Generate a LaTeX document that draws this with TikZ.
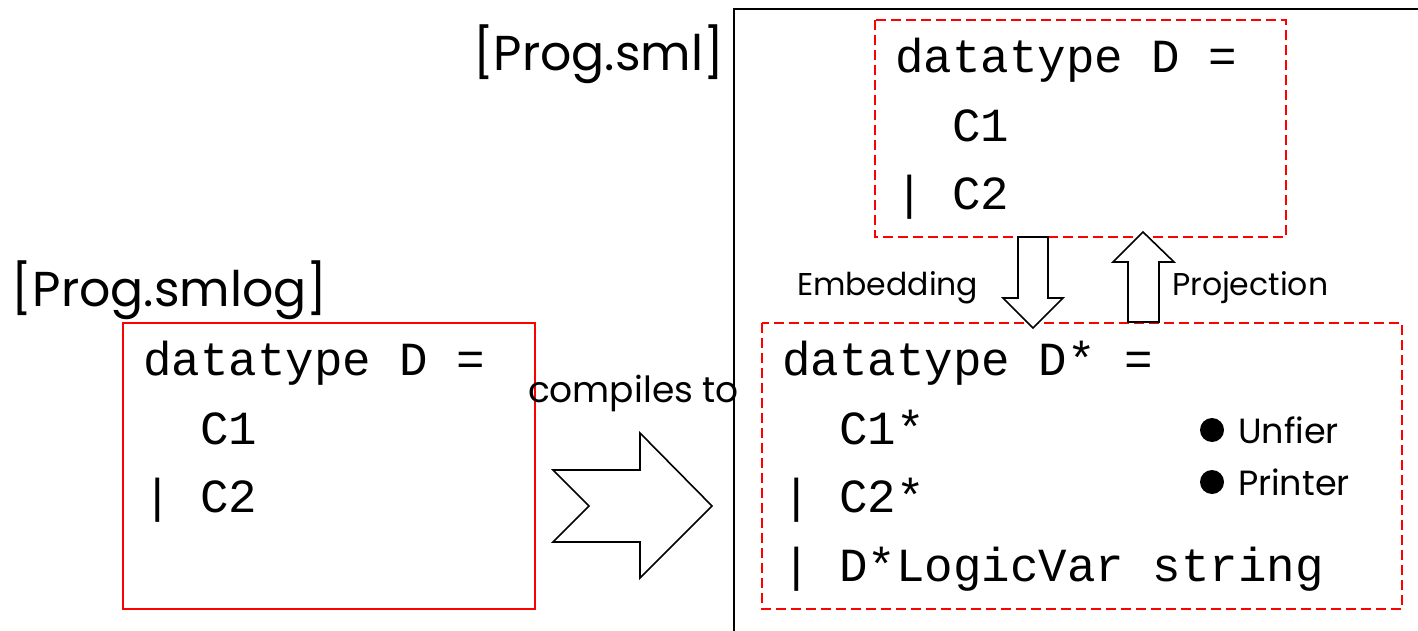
\documentclass[tikz,border=0pt]{standalone}
\usepackage{fontspec}
\setmainfont{Poppins}
\newfontfamily\codefont{Liberation Mono}
\begin{document}
\begin{tikzpicture}[x={(1pt,0)}, y={(0,-1pt)},
  every node/.style={inner sep=0pt, outer sep=0pt, anchor=base west},
  code/.style={font=\codefont\fontsize{47.5}{50}\selectfont},
  filename/.style={font=\fontsize{49}{54}\selectfont},
  label/.style={font=\fontsize{31.5}{36}\selectfont},
  item/.style={font=\fontsize{35}{40}\selectfont},
  solidbox/.style={draw=red, line width=1.6pt},
  dashbox/.style={draw=red, line width=1.6pt, dash pattern=on 10pt off 5pt},
  frame/.style={draw=black, line width=1.6pt},
  bigarrow/.style={draw=black, line width=1.6pt, line join=miter, fill=white}]
\useasboundingbox (0,0) rectangle (1418,631);

% outer frame of the generated program
\draw[frame] (734,631) -- (734,9) -- (1418,9);

% source program
\node[filename] (srcname) at (12,306) {[Prog.smlog]};
\draw[solidbox] (123,323) rectangle (535,609);
\node[code] (s1) at (143,375) {datatype D =};
\node[code] (s2) at (143,444) {\ \ C1};
\node[code] (s3) at (143,512) {| C2};

% compilation arrow
\node[font=\fontsize{36}{40}\selectfont] (comp) at (528,402) {compiles to};
\draw[bigarrow] (553,470) -- (640,470) -- (640,433) -- (712,506) -- (640,578)
  -- (640,542) -- (553,542) -- (589,506) -- cycle;

% generated program
\node[filename] (dstname) at (473,71) {[Prog.sml]};
\draw[dashbox] (875,20) rectangle (1286,237);
\node[code] (t1) at (895,73) {datatype D =};
\node[code] (t2) at (895,142) {\ \ C1};
\node[code] (t3) at (895,210) {| C2};

\draw[dashbox] (762,323) rectangle (1402,609);
\node[code] (b1) at (782,375) {datatype D* =};
\node[code] (b2) at (782,444) {\ \ C1*};
\node[code] (b3) at (782,512) {| C2*};
\node[code] (b4) at (782,581) {| D*LogicVar string};

% embedding / projection arrows
\draw[bigarrow] (1018,237) -- (1048,237) -- (1048,298) -- (1063,298) -- (1033,328)
  -- (1003,298) -- (1018,298) -- cycle;
\draw[bigarrow] (1128,322) -- (1159,322) -- (1159,262) -- (1174,262) -- (1143,232)
  -- (1113,262) -- (1128,262) -- cycle;
\node[label] (emb) at (797,295) {Embedding};
\node[label] (proj) at (1172,295) {Projection};

% generated helpers
\fill (1212,430) circle (12);
\fill (1212,482) circle (12);
\node[item] (unif) at (1238,443) {Unfier};
\node[item] (prnt) at (1238,495) {Printer};
\end{tikzpicture}
\end{document}
